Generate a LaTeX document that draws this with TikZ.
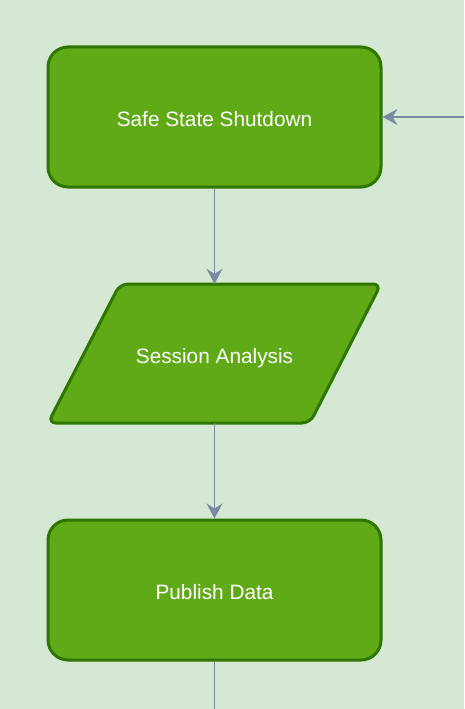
\documentclass[tikz,border=0pt]{standalone}
\usepackage{fontspec}
\setmainfont{Liberation Sans}
\usetikzlibrary{arrows.meta}
\definecolor{pagebg}{HTML}{D5E8D4}
\definecolor{boxfill}{HTML}{60A917}
\definecolor{boxline}{HTML}{2D7600}
\definecolor{flowline}{HTML}{788AA3}
\begin{document}
\begin{tikzpicture}[
    x=1pt,y=-1pt,
    font=\fontsize{20.8}{24}\selectfont,
    process/.style={draw=boxline,fill=boxfill,line width=3pt,text=white,
        rounded corners=20pt,minimum width=333pt,minimum height=140pt,
        inner sep=0pt,text height=19pt,text depth=0pt,align=center},
    datashape/.style={draw=boxline,fill=boxfill,line width=3pt,
        rounded corners=8pt},
    datatext/.style={text=white,minimum width=262pt,minimum height=139pt,
        inner sep=0pt,text height=19pt,text depth=0pt,align=center},
    flow/.style={draw=flowline,line width=1.5pt,
        -{Stealth[length=15pt,width=16pt,inset=5pt]}}
]

% page
\fill[pagebg] (0,0) rectangle (464,709);
\useasboundingbox (0,0) rectangle (464,709);

\node[process] (shutdown) at (214.5,117)
    {Safe State Shutdown};

% parallelogram
\draw[datashape] (120,284) -- (381,284) -- (310,423) -- (48,423) -- cycle;
\node[datatext] (analysis) at (214.5,353.5)
    {Session Analysis};

\node[process] (publish) at (214.5,590)
    {Publish Data};

% loose ends
\coordinate (loopin) at (464,117);
\coordinate (nextstep) at (214.5,709);

\draw[flow] (shutdown.south) -- (analysis.north);
\draw[flow] (analysis.south) -- (publish.north);
\draw[flow] (loopin) -- (shutdown.east);
\draw[draw=flowline,line width=1.5pt] (publish.south) -- (nextstep);

\end{tikzpicture}
\end{document}
